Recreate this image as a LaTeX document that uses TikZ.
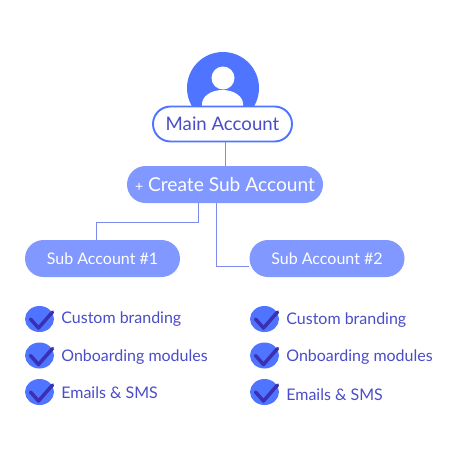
\documentclass[tikz,border=0pt]{standalone}
\usepackage{fontspec}
\setmainfont{Lato}
\usetikzlibrary{calc, positioning, shapes.misc}

\definecolor{avatarblue}{HTML}{4F74FF}
\definecolor{pillblue}{HTML}{8098FF}
\definecolor{inkblue}{HTML}{4A4CC8}
\definecolor{linkblue}{HTML}{7F8BEA}
\definecolor{tickblue}{HTML}{3A30B4}

\tikzset{
  pill/.style={rounded rectangle, fill=pillblue, text=white, minimum height=37\pxu, inner sep=0pt},
  mainpill/.style={rounded rectangle, draw=avatarblue, line width=1.1pt, fill=white, text=inkblue, minimum width=139\pxu, minimum height=35\pxu, inner sep=0pt},
  link/.style={linkblue, line width=0.5pt},
  feature/.style={anchor=west, text=inkblue, font=\fontsize{9.1}{11}\selectfont, inner sep=0pt},
  tickmark/.pic={
    \fill[avatarblue] (0,0) ellipse (14.5 and 13);
    \draw[tickblue, line width=2pt, line cap=round, line join=round] (-9,0) -- (-1,9) -- (13,-7);
  }
}
\newlength{\pxu}\setlength{\pxu}{0.02cm}

\begin{document}
\begin{tikzpicture}[x=0.02cm, y=-0.02cm]
  \useasboundingbox (0,0) rectangle (450,450);
  % ---- Avatar ----
  \fill[avatarblue] (223,88) circle (36);
  \fill[white] (223,78) circle (11.5);
  \fill[white] (202,108) -- (202,104) arc[start angle=180, end angle=360, x radius=20.5, y radius=14] -- (243,108) -- cycle;
  % ---- Account boxes ----
  \node[mainpill, font=\fontsize{10.6}{13}\selectfont] (main) at (222.5,124) {Main Account};
  \node[pill, minimum width=196\pxu, font=\fontsize{10.9}{13}\selectfont] (create) at (225,184.5) {{\fontsize{8}{13}\selectfont +} Create Sub Account};
  \node[pill, minimum width=155\pxu, font=\fontsize{9.1}{11}\selectfont] (subone) at (102.5,258.5) {Sub Account \#1};
  \node[pill, minimum width=155\pxu, font=\fontsize{9.1}{11}\selectfont] (subtwo) at (327,258.5) {Sub Account \#2};
  % ---- Connectors ----
  \coordinate (elbowone) at (198,222);
  \coordinate (elbowtwo) at (216,266);
  \draw[link] (create.north) -- (create.north |- main.south);
  \draw[link] (subone.north -| 96,0) |- (elbowone) -- (create.south -| elbowone);
  \draw[link] (create.south -| elbowtwo) -- (elbowtwo) -- (subtwo.west |- elbowtwo);
  % ---- Left list ----
  \pic at (39.5,319) {tickmark};
  \pic at (39.5,355.5) {tickmark};
  \pic at (39.5,392) {tickmark};
  \node[feature] (brandone) at (61,319) {Custom branding};
  \node[feature] (modulesone) at (61,357) {Onboarding modules};
  \node[feature] (smsone) at (61,393) {Emails \& SMS};
  % ---- Right list ----
  \pic at (264.5,319) {tickmark};
  \pic at (264.5,355.5) {tickmark};
  \pic at (264.5,392) {tickmark};
  \node[feature] (brandtwo) at (286,320) {Custom branding};
  \node[feature] (modulestwo) at (286,357) {Onboarding modules};
  \node[feature] (smstwo) at (286,395) {Emails \& SMS};
\end{tikzpicture}
\end{document}
